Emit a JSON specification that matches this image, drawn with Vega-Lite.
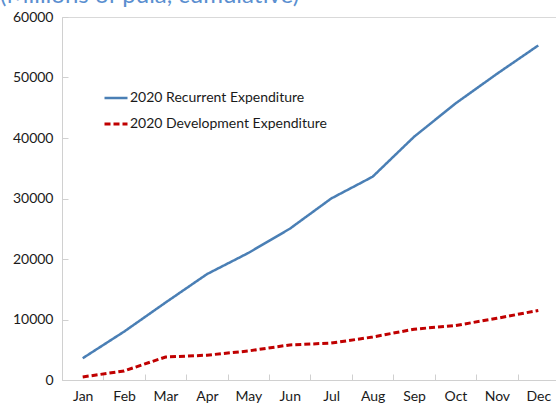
{
  "$schema": "https://vega.github.io/schema/vega-lite/v6.json",
  "width": 497,
  "height": 363,
  "autosize": {"type": "none"},
  "padding": {"left": 62, "top": 17, "right": 0, "bottom": 29},
  "background": "white",
  "config": {
    "font": "Lato",
    "view": {"stroke": "#d9d9d9", "strokeWidth": 1}
  },
  "title": {
    "text": "(Millions of pula, cumulative)",
    "anchor": "start",
    "frame": "group",
    "dx": -62,
    "dy": 17,
    "offset": 0,
    "baseline": "alphabetic",
    "fontSize": 24,
    "fontWeight": "normal",
    "color": "#5b8fd0",
    "font": "Lato"
  },
  "data": {
    "values": [
      {"month": "Jan", "series": "2020 Recurrent Expenditure", "value": 3600},
      {"month": "Feb", "series": "2020 Recurrent Expenditure", "value": 8000},
      {"month": "Mar", "series": "2020 Recurrent Expenditure", "value": 12800},
      {"month": "Apr", "series": "2020 Recurrent Expenditure", "value": 17500},
      {"month": "May", "series": "2020 Recurrent Expenditure", "value": 21000},
      {"month": "Jun", "series": "2020 Recurrent Expenditure", "value": 25000},
      {"month": "Jul", "series": "2020 Recurrent Expenditure", "value": 30000},
      {"month": "Aug", "series": "2020 Recurrent Expenditure", "value": 33600},
      {"month": "Sep", "series": "2020 Recurrent Expenditure", "value": 40200},
      {"month": "Oct", "series": "2020 Recurrent Expenditure", "value": 45700},
      {"month": "Nov", "series": "2020 Recurrent Expenditure", "value": 50600},
      {"month": "Dec", "series": "2020 Recurrent Expenditure", "value": 55300},
      {"month": "Jan", "series": "2020 Development Expenditure", "value": 500},
      {"month": "Feb", "series": "2020 Development Expenditure", "value": 1500},
      {"month": "Mar", "series": "2020 Development Expenditure", "value": 3800},
      {"month": "Apr", "series": "2020 Development Expenditure", "value": 4100},
      {"month": "May", "series": "2020 Development Expenditure", "value": 4800},
      {"month": "Jun", "series": "2020 Development Expenditure", "value": 5800},
      {"month": "Jul", "series": "2020 Development Expenditure", "value": 6100},
      {"month": "Aug", "series": "2020 Development Expenditure", "value": 7100},
      {"month": "Sep", "series": "2020 Development Expenditure", "value": 8400},
      {"month": "Oct", "series": "2020 Development Expenditure", "value": 9000},
      {"month": "Nov", "series": "2020 Development Expenditure", "value": 10200},
      {"month": "Dec", "series": "2020 Development Expenditure", "value": 11500}
    ]
  },
  "mark": {"type": "line", "interpolate": "linear", "strokeCap": "butt"},
  "encoding": {
    "x": {
      "field": "month",
      "type": "ordinal",
      "sort": ["Jan","Feb","Mar","Apr","May","Jun","Jul","Aug","Sep","Oct","Nov","Dec"],
      "scale": {"type": "band", "paddingInner": 0, "paddingOuter": 0},
      "bandPosition": 0.5,
      "axis": {
        "title": null,
        "labelAngle": 0,
        "labelFontSize": 14,
        "labelColor": "#1a1a1a",
        "labelPadding": 15,
        "tickBand": "extent",
        "tickSize": -6,
        "tickColor": "#d0d0d0",
        "domainColor": "#d0d0d0",
        "grid": false
      }
    },
    "y": {
      "field": "value",
      "type": "quantitative",
      "scale": {"domain": [0, 60000], "nice": false},
      "axis": {
        "title": null,
        "values": [0, 10000, 20000, 30000, 40000, 50000, 60000],
        "format": "d",
        "labelFontSize": 14,
        "labelColor": "#1a1a1a",
        "labelPadding": 15,
        "tickSize": -6,
        "tickColor": "#d0d0d0",
        "domainColor": "#d0d0d0",
        "grid": false
      }
    },
    "color": {
      "field": "series",
      "type": "nominal",
      "scale": {
        "domain": ["2020 Recurrent Expenditure", "2020 Development Expenditure"],
        "range": ["#4a7fb5", "#c00000"]
      },
      "legend": {
        "title": null,
        "orient": "none",
        "legendX": 41,
        "legendY": 68,
        "symbolType": "stroke",
        "symbolSize": 529,
        "symbolStrokeWidth": 2.5,
        "labelFontSize": 14,
        "labelColor": "#1a1a1a",
        "labelOffset": 1,
        "labelLimit": 400,
        "rowPadding": 6,
        "padding": 0
      }
    },
    "strokeDash": {
      "field": "series",
      "type": "nominal",
      "scale": {
        "domain": ["2020 Recurrent Expenditure", "2020 Development Expenditure"],
        "range": [[1, 0], [6, 3]]
      },
      "legend": null
    },
    "strokeWidth": {
      "field": "series",
      "type": "nominal",
      "scale": {
        "domain": ["2020 Recurrent Expenditure", "2020 Development Expenditure"],
        "range": [2.5, 3]
      },
      "legend": null
    }
  }
}
